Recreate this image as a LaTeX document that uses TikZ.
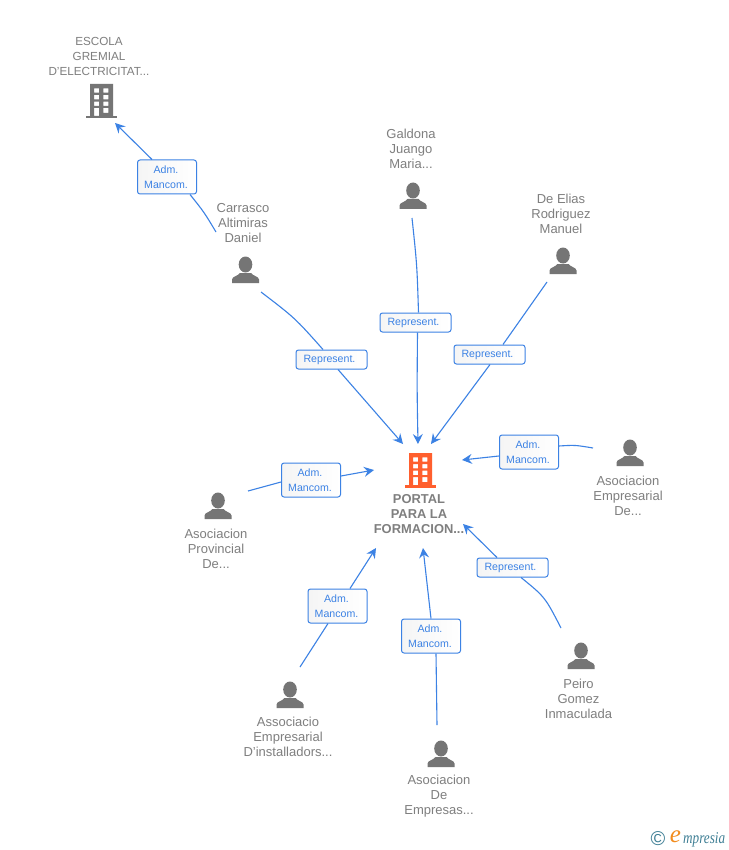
\documentclass[tikz,border=0pt]{standalone}
\usepackage{fontspec}
\setmainfont{Liberation Sans}
\newfontfamily\logofont{Liberation Serif}
\usetikzlibrary{arrows.meta,shadings}
\definecolor{linkblue}{HTML}{3C82E4}
\definecolor{namegray}{HTML}{7F7F7F}
\definecolor{icongray}{HTML}{757575}
\definecolor{coreorange}{HTML}{FF5F2E}
\definecolor{logoteal}{HTML}{3F7F95}
\definecolor{logoorange}{HTML}{F28C1E}
\newcommand{\chipA}{Adm.\hspace*{2pt}\\Mancom.\hspace*{2pt}}
\newcommand{\chipR}{\raisebox{-1.5pt}{Represent.\hspace*{4pt}}}
\tikzset{
  x=1pt,y=-1pt,
  link/.style={draw=linkblue,line width=1.1pt},
  tipped/.style={link,-{Stealth[length=10pt,width=10pt,inset=3.5pt]}},
  chip/.style={draw=linkblue,line width=1pt,rounded corners=2.5pt,left color=black!4,right color=white,
    text=linkblue,inner sep=0pt,align=center,font=\fontsize{10.6}{15}\selectfont},
  chiptwo/.style={chip,minimum width=59pt,minimum height=34pt},
  chipone/.style={chip,minimum width=71pt,minimum height=19pt},
  whoname/.style={text=namegray,align=center,inner sep=0pt,font=\fontsize{13}{15}\selectfont},
  pics/person/.style={code={
    \fill[icongray] (0,7.5) ellipse[x radius=6.8,y radius=8];
    \fill[icongray] (-13.5,26) -- (-13.5,22.5) .. controls (-13.5,19.5) and (-7,18.8) .. (-5.5,16)
      -- (5.5,16) .. controls (7,18.8) and (13.5,19.5) .. (13.5,22.5) -- (13.5,26) -- cycle;
  }},
  pics/tower/.style={code={
    \fill[#1,even odd rule] (0,0) rectangle (23,32)
      (4,4.3) rectangle (9,8.7) (13.3,4.3) rectangle (18.3,8.7)
      (4,11) rectangle (9,15.3) (13.3,11) rectangle (18.3,15.3)
      (4,17.7) rectangle (9,22) (13.3,17.7) rectangle (18.3,22)
      (4,24) rectangle (9,32) (13.3,24) rectangle (18.3,29);
    \fill[#1] (-4,32) rectangle (27,34.5);
  }}
}
\begin{document}
\begin{tikzpicture}
\useasboundingbox[fill=white] (0,0) rectangle (728,850);

% icons
\pic at (90,84) {tower=icongray};
\pic at (409,453) {tower=coreorange};
\pic at (245.5,257) {person};
\pic at (413,183) {person};
\pic at (563,248) {person};
\pic at (630,440) {person};
\pic at (218,493) {person};
\pic at (290,682) {person};
\pic at (441,741) {person};
\pic at (581,643) {person};

% names
\node[whoname,font=\fontsize{11.7}{15}\selectfont] (escola) at (99,56) {ESCOLA\\GREMIAL\\D'ELECTRICITAT...};
\node[whoname,font=\bfseries\fontsize{12.9}{15}\selectfont] (portal) at (419,514) {PORTAL\\PARA LA\\FORMACION...};
\node[whoname] (carrasco) at (243,223) {Carrasco\\Altimiras\\Daniel};
\node[whoname] (galdona) at (411,149) {Galdona\\Juango\\Maria...};
\node[whoname] (elias) at (561,214) {De Elias\\Rodriguez\\Manuel};
\node[whoname] (empresarial) at (628,496) {Asociacion\\Empresarial\\De...};
\node[whoname] (provincial) at (216,549) {Asociacion\\Provincial\\De...};
\node[whoname] (installadors) at (288,737) {Associacio\\Empresarial\\D'installadors...};
\node[whoname] (empresas) at (439,796.5) {Asociacion\\De\\Empresas...};
\node[whoname] (peiro) at (578.5,699) {Peiro\\Gomez\\Inmaculada};

% connector free ends
\coordinate (s1) at (216,232); \coordinate (t1) at (115,123);
\coordinate (s2) at (261,292); \coordinate (t2) at (403,444);
\coordinate (s3) at (412,218); \coordinate (t3) at (418,444);
\coordinate (s4) at (547,282); \coordinate (t4) at (431,444);
\coordinate (s5) at (593,448); \coordinate (t5) at (462,460);
\coordinate (s6) at (248,491); \coordinate (t6) at (374,470);
\coordinate (s7) at (300,667); \coordinate (t7) at (376,548);
\coordinate (s8) at (437,725); \coordinate (t8) at (423,548);
\coordinate (s9) at (561,628); \coordinate (t9) at (463,524);

% chips
\node[chiptwo] (b1) at (167,177) {\chipA};
\node[chipone] (b2) at (331.5,359.5) {\chipR};
\node[chipone] (b3) at (415.5,322.5) {\chipR};
\node[chipone] (b4) at (489.5,354.5) {\chipR};
\node[chiptwo] (b5) at (529,452) {\chipA};
\node[chiptwo] (b6) at (311,480) {\chipA};
\node[chiptwo] (b7) at (337.5,606) {\chipA};
\node[chiptwo] (b8) at (431,636) {\chipA};
\node[chipone] (b9) at (512.5,567.5) {\chipR};

% connectors
\draw[link] (s1) .. controls (204,212) .. ([xshift=23pt]b1.south);
\draw[tipped] ([xshift=-15pt]b1.north) -- (t1);
\draw[link] (s2) .. controls (295,318) .. ([xshift=-8.5pt]b2.north);
\draw[tipped] ([xshift=6.5pt]b2.south) -- (t2);
\draw[link] (s3) .. controls (417,265) .. ([xshift=3pt]b3.north);
\draw[tipped] ([xshift=2pt]b3.south) .. controls (417,390) .. (t3);
\draw[link] (s4) -- ([xshift=13.5pt]b4.north);
\draw[tipped] ([xshift=0.5pt]b4.south) -- (t4);
\draw[link] (s5) .. controls (575,445) .. ([yshift=6pt]b5.east);
\draw[tipped] ([yshift=-4pt]b5.west) -- (t5);
\draw[link] (s6) -- ([yshift=-2pt]b6.west);
\draw[tipped] ([yshift=4pt]b6.east) -- (t6);
\draw[link] (s7) -- ([xshift=-9.5pt]b7.south);
\draw[tipped] ([xshift=12.5pt]b7.north) -- (t7);
\draw[link] (s8) .. controls (437,690) .. ([xshift=5pt]b8.south);
\draw[tipped] (b8.north) -- (t8);
\draw[link] (s9) .. controls (545,597) .. ([xshift=8.5pt]b9.south);
\draw[tipped] ([xshift=-15.5pt]b9.north) -- (t9);

% logo
\node[inner sep=0pt,text=logoteal,font=\fontsize{20}{20}\selectfont] (copy) at (658,839) {©};
\node[inner sep=0pt,text=logoorange,font=\logofont\itshape\fontsize{25}{25}\selectfont] (loge) at (675.5,837) {e};
\node[inner sep=0pt,anchor=west,xscale=0.8,text=logoteal,font=\logofont\itshape\fontsize{16.5}{17}\selectfont] (logm) at (683,840) {mpresia};
\end{tikzpicture}
\end{document}
